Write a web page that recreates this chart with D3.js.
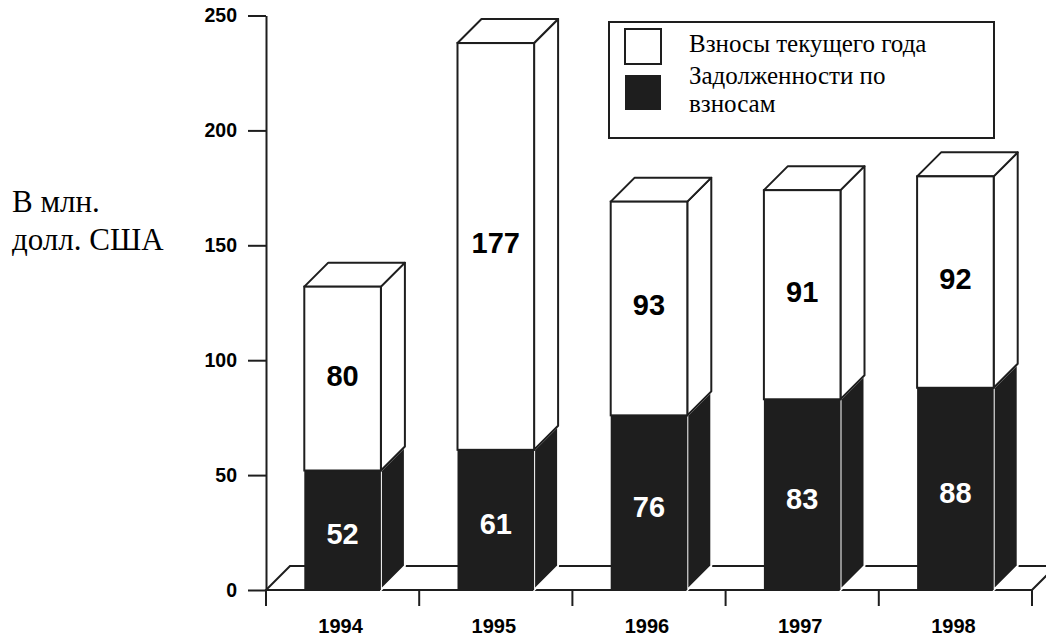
<!DOCTYPE html>
<html>
<head>
<meta charset="utf-8">
<script src="https://cdn.jsdelivr.net/npm/d3@7"></script>
<style>
  body { margin: 0; background: #fff; }
  svg { display: block; }
</style>
</head>
<body>
<script>
// chart data
var years = ["1994", "1995", "1996", "1997", "1998"];
var arrears = [52, 61, 76, 83, 88];        // Задолженности по взносам
var current = [80, 177, 93, 91, 92];       // Взносы текущего года
var yTicks = [0, 50, 100, 150, 200, 250];
var yTitle = ["В млн.", "долл. США"];
var legendLabels = [["Взносы текущего года"], ["Задолженности по", "взносам"]];

var W = 1046, H = 639;
var ink = "#1e1e1e";
var depth = 24;
var SANS = "'Liberation Sans'", SERIF = "'Liberation Serif'";

var svg = d3.select("body").append("svg")
    .attr("width", W)
    .attr("height", H);

var y = d3.scaleLinear()
    .domain([0, 250])
    .range([590, 15.5]);

var x = d3.scaleBand()
    .domain(years)
    .range([266, 1032])
    .paddingInner(0.5)
    .paddingOuter(0.25);

var bw = x.bandwidth();

// floor
var x0 = 266, x1 = 1032, y0 = y(0);
svg.append("path")
    .attr("d", "M" + x0 + "," + y0 + "L" + x1 + "," + y0 + "L" + (x1 + depth) + "," + (y0 - depth) +
      "L" + (x0 + depth) + "," + (y0 - depth) + "Z")
    .attr("fill", "#fff")
    .attr("stroke", ink)
    .attr("stroke-width", 2);

// y axis
svg.append("g")
    .attr("transform", "translate(266,0)")
    .call(d3.axisLeft(y).tickValues(yTicks).tickSize(18).tickSizeOuter(0).tickPadding(11))
    .call(function(g) {
      g.attr("font-family", null).attr("font-size", null);
      g.selectAll("path, line").attr("stroke", ink).attr("stroke-width", 2);
      g.selectAll("text")
        .style("font-family", SANS)
        .style("font-weight", "bold")
        .style("font-size", "19.5px")
        .attr("fill", "#000");
    });

// x axis ticks at band boundaries
var bounds = d3.range(years.length + 1).map(function(i) { return x0 + i * (x1 - x0) / years.length; });
svg.append("g").selectAll("line")
    .data(bounds)
  .enter().append("line")
    .attr("x1", function(d) { return d; })
    .attr("x2", function(d) { return d; })
    .attr("y1", y0)
    .attr("y2", y0 + 16)
    .attr("stroke", ink)
    .attr("stroke-width", 2);

svg.append("g").selectAll("text")
    .data(years)
  .enter().append("text")
    .attr("x", function(d) { return x(d) + bw / 2 - 2; })
    .attr("y", 633)
    .attr("text-anchor", "middle")
    .style("font-family", SANS)
    .style("font-weight", "bold")
    .style("font-size", "20px")
    .text(function(d) { return d; });

// 3d segment helper
function block(g, left, top, bottom, fill, stroke, withTop) {
  var right = left + bw;
  g.append("path")
      .attr("d", "M" + right + "," + bottom + "L" + (right + depth) + "," + (bottom - depth) +
        "L" + (right + depth) + "," + (top - depth) + "L" + right + "," + top + "Z")
      .attr("fill", fill).attr("stroke", stroke).attr("stroke-width", 2)
      .attr("stroke-linejoin", "round");
  if (withTop) {
    g.append("path")
        .attr("d", "M" + left + "," + top + "L" + right + "," + top + "L" + (right + depth) + "," + (top - depth) +
          "L" + (left + depth) + "," + (top - depth) + "Z")
        .attr("fill", fill).attr("stroke", stroke).attr("stroke-width", 2)
        .attr("stroke-linejoin", "round");
  }
  return g.append("rect")
      .attr("x", left).attr("y", top)
      .attr("width", bw).attr("height", bottom - top)
      .attr("fill", fill).attr("stroke", stroke).attr("stroke-width", 2);
}

years.forEach(function(yr, i) {
  var g = svg.append("g");
  var left = x(yr);
  var a = arrears[i], c = current[i];
  // black segment
  block(g, left, y(a), y(0), ink, "#fff", false).attr("stroke", "none");
  // white segment
  block(g, left, y(a + c), y(a), "#fff", ink, true);

  g.append("text")
      .attr("x", left + bw / 2)
      .attr("y", y(a / 2) + 4)
      .attr("text-anchor", "middle")
      .attr("dominant-baseline", "central")
      .style("font-family", SANS)
      .style("font-weight", "bold")
      .style("font-size", "29px")
      .attr("fill", "#fff")
      .text(a);
  g.append("text")
      .attr("x", left + bw / 2)
      .attr("y", y(a + c / 2) - 3)
      .attr("text-anchor", "middle")
      .attr("dominant-baseline", "central")
      .style("font-family", SANS)
      .style("font-weight", "bold")
      .style("font-size", "29px")
      .attr("fill", "#000")
      .text(c);
});

// y label
svg.append("g").selectAll("text")
    .data(yTitle)
  .enter().append("text")
    .attr("x", 12)
    .attr("y", function(d, i) { return 212 + i * 38; })
    .style("font-family", SERIF)
    .style("font-size", "31px")
    .text(function(d) { return d; });

// legend
var leg = svg.append("g");
leg.append("rect")
    .attr("x", 609).attr("y", 22).attr("width", 385).attr("height", 116)
    .attr("fill", "#fff").attr("stroke", ink).attr("stroke-width", 2);
leg.append("rect")
    .attr("x", 625).attr("y", 29).attr("width", 36).attr("height", 35)
    .attr("fill", "#fff").attr("stroke", ink).attr("stroke-width", 2);
leg.append("rect")
    .attr("x", 625).attr("y", 75).attr("width", 36).attr("height", 35)
    .attr("fill", ink);
var lines = [legendLabels[0][0], legendLabels[1][0], legendLabels[1][1]];
leg.selectAll("text.item")
    .data(lines)
  .enter().append("text")
    .attr("class", "item")
    .attr("x", 689)
    .attr("y", function(d, i) { return [52, 84, 112][i]; })
    .style("font-family", SERIF)
    .style("font-size", "25px")
    .text(function(d) { return d; });
</script>
</body>
</html>
